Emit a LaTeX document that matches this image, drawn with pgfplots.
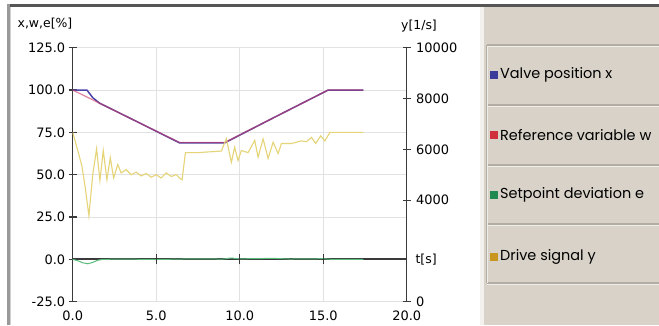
\documentclass[border=0pt]{standalone}
\usepackage{fontspec}
\setmainfont{DejaVu Sans}
\newfontfamily\legfont{Poppins}
\usepackage{pgfplots}
\pgfplotsset{compat=1.18}
\definecolor{gridc}{HTML}{E2E2E2}
\definecolor{axc}{HTML}{3A3A3A}
\definecolor{panelc}{HTML}{D8D2C8}
\definecolor{sepc}{HTML}{B2ACA2}
\definecolor{bluec}{HTML}{4A44A8}
\definecolor{redc}{HTML}{D03C64}
\definecolor{greenc}{HTML}{58BC7C}
\definecolor{yelc}{HTML}{E6D478}
\definecolor{mblue}{HTML}{3B3B9C}
\definecolor{mred}{HTML}{D0303C}
\definecolor{mgreen}{HTML}{1E8A50}
\definecolor{mgold}{HTML}{C8961E}
\definecolor{topc}{HTML}{555555}
\definecolor{framec}{HTML}{999999}
\definecolor{framel}{HTML}{D0D0D0}
\pgfplotsset{
  every tick label/.append style={font=\fontsize{13}{15}\selectfont},
  /pgf/number format/assume math mode=true,
}
\begin{document}
\begin{tikzpicture}
\begin{scope}[x=1bp,y=1bp]
\fill[white] (0,0) rectangle (659,325);
\fill[panelc] (483,0) rectangle (659,318);
\fill[white!70!panelc] (480,0) rectangle (484,318);
\fill[topc] (8,318) rectangle (659,320.5);
\fill[framec] (7,0) rectangle (9.5,320.5);
\fill[framel] (9.5,0) rectangle (10.5,318);
\foreach \yy in {280,220,160,101,42}{
  \draw[sepc, line width=1.2bp] (487,\yy) -- (659,\yy);
  \draw[white!60!panelc, line width=1bp] (487,\yy-1.2) -- (659,\yy-1.2);
}
\draw[sepc, line width=1bp] (486.5,42) -- (486.5,280);
\draw[white!60!panelc, line width=1bp] (487.8,42) -- (487.8,279);
\fill[mblue] (490,246) rectangle (498,254);
\fill[mred] (490,186) rectangle (498,194);
\fill[mgreen] (490,126) rectangle (498,134);
\fill[mgold] (490,64) rectangle (498,72);
\begin{scope}[every node/.style={anchor=west, inner sep=0pt, font=\legfont\fontsize{14.5}{16}\selectfont}]
\node at (500,250) {Valve position x};
\node at (500,190) {Reference variable w};
\node at (500,130) {Setpoint deviation e};
\node at (500,68) {Drive signal y};
\end{scope}
\end{scope}

% left axis
\begin{axis}[
  at={(72.7bp,23.3bp)}, anchor=south west, scale only axis,
  width=334bp, height=254bp,
  xmin=0, xmax=20, ymin=-25, ymax=125,
  axis x line*=bottom, axis y line*=left,
  x axis line style={draw=none},
  y axis line style={axc, line width=1.3bp, -},
  xtick={0,5,10,15,20}, ytick={-25,0,25,50,75,100,125},
  xtick style={draw=none},
  ytick style={axc, line width=1.1bp},
  tick align=center, major tick length=8bp,
  xmajorgrids, ymajorgrids,
  major grid style={gridc, line width=0.9bp},
  xticklabel style={/pgf/number format/fixed, /pgf/number format/fixed zerofill, /pgf/number format/precision=1, yshift=-2bp},
  yticklabel style={/pgf/number format/fixed, /pgf/number format/fixed zerofill, /pgf/number format/precision=1, xshift=0bp},
  clip=false,
]
\draw[axc, line width=1.8bp] (axis cs:0,0) -- (axis cs:20,0);
\addplot[greenc, line width=1bp] coordinates {
(0,0) (0.3,-0.8) (0.6,-2.0) (0.9,-2.6) (1.2,-1.8) (1.5,-0.5) (1.8,0) (3,0.2) (5,-0.1) (7,0.3) (9,0.2) (9.5,0.8) (10,0.3) (12,0.6) (13,0.2) (15,0.4) (15.5,0) (17.4,0)
};
\draw[axc, line width=1.1bp] (axis cs:5,-3) -- (axis cs:5,3);
\draw[axc, line width=1.1bp] (axis cs:10,-3) -- (axis cs:10,3);
\draw[axc, line width=1.1bp] (axis cs:15,-3) -- (axis cs:15,3);
\addplot[bluec, line width=1.5bp] coordinates {
(0,100) (0.85,100) (1.2,95.5) (1.6,92.3) (4,80.6) (6.4,68.8) (9.1,68.8) (12,83.5) (15.3,100) (17.4,100)
};
\addplot[redc, opacity=0.6, line width=1.3bp] coordinates {
(0,100) (6.4,69) (9.1,69) (15.3,100) (17.4,100)
};
\end{axis}

% right axis
\begin{axis}[
  at={(72.7bp,23.3bp)}, anchor=south west, scale only axis,
  width=334bp, height=254bp,
  xmin=0, xmax=20, ymin=0, ymax=10000,
  axis x line=none, axis y line*=right,
  y axis line style={axc, line width=1.3bp, -},
  ytick={0,4000,6000,8000,10000},
  ytick style={axc, line width=1.1bp},
  tick align=center, major tick length=8bp,
  scaled y ticks=false,
  yticklabel style={/pgf/number format/1000 sep={}, xshift=2bp},
]
\addplot[yelc, line width=1.1bp] coordinates {
(0,6667) (0.2,6200) (0.55,5350) (0.75,4500) (0.97,3390) (1.2,5000) (1.43,6020) (1.63,4770) (1.83,5950) (2.05,4800) (2.25,5670) (2.45,4870) (2.7,5400) (2.9,5070) (3.2,5200) (3.5,5000) (3.8,5100) (4.1,4950) (4.4,5050) (4.7,4900) (5.0,5000) (5.3,4870) (5.6,5070) (5.9,4930) (6.2,5000) (6.4,4870) (6.55,4800) (6.75,5870) (7.5,5870) (8.2,5900) (8.9,5930) (9.2,6420) (9.5,5490) (9.7,6080) (9.9,5560) (10.1,5950) (10.5,5870) (10.9,6350) (11.1,5690) (11.4,6410) (11.7,5640) (12.0,6280) (12.3,5830) (12.5,6230) (13.1,6230) (13.4,6280) (13.7,6330) (14.0,6300) (14.3,6470) (14.55,6230) (14.85,6530) (15.1,6330) (15.4,6667) (17.4,6667)
};
\end{axis}

\begin{scope}[x=1bp,y=1bp]
\node[font=\fontsize{12.5}{15}\selectfont] at (45,301) {x,w,e[\%]};
\node[font=\fontsize{12.5}{15}\selectfont] at (419,299) {y[1/s]};
\node[anchor=west, font=\fontsize{12.5}{15}\selectfont] at (412,65) {t[s]};
\pgfresetboundingbox
\useasboundingbox (0,0) rectangle (659,325);
\end{scope}
\end{tikzpicture}
\end{document}
